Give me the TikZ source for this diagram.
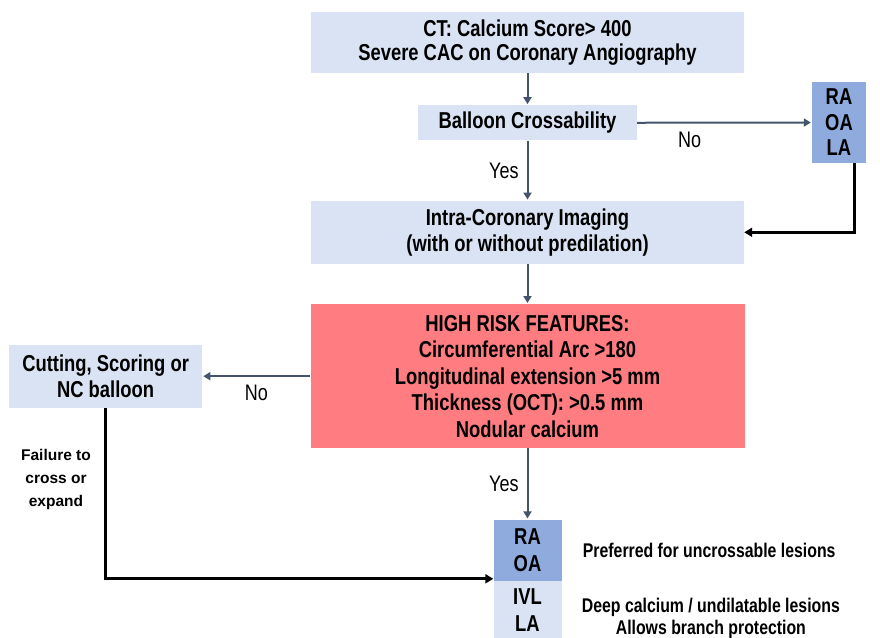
\documentclass[tikz,border=0pt]{standalone}
\usepackage{fontspec}
\setmainfont[FakeStretch=0.8]{Liberation Sans}
\newfontfamily\plainfont{Liberation Sans}
\usetikzlibrary{graphs, positioning, quotes, arrows.meta}

\definecolor{boxblue}{HTML}{DAE3F3}
\definecolor{altblue}{HTML}{8FAADC}
\definecolor{riskred}{HTML}{FF7C80}
\definecolor{flowgray}{HTML}{44546A}

\begin{document}
\begin{tikzpicture}[x=1pt, y=1pt,
		box/.style={fill=boxblue, align=center, inner sep=0pt, font=\fontsize{23}{26.5}\selectfont\bfseries},
		altbox/.style={box, fill=altblue},
		riskbox/.style={box, fill=riskred},
		note/.style={align=center, inner sep=0pt, font=\fontsize{19.8}{22}\selectfont\bfseries},
		flow/.style={draw=flowgray, line width=2pt, shorten >=1pt, >={Triangle[length=7pt, width=8pt]}},
		backflow/.style={draw, line width=3pt, -{Triangle[length=8pt, width=9pt]}},
		every edge quotes/.style={font=\fontsize{22.5}{24}\selectfont, inner sep=8pt}]
		\useasboundingbox (0,0) rectangle (880,-637);

		\node[box, minimum width=433pt, minimum height=61pt, font=\fontsize{23}{24.5}\selectfont\bfseries] (ct) at (527.5,-42.5) {CT: Calcium Score> 400\\Severe CAC on Coronary Angiography};
		\node[box, minimum width=219pt, minimum height=35pt, below=32pt of ct]     (balloon) {Balloon Crossability};
		\node[box, minimum width=433pt, minimum height=63pt, below=60pt of balloon] (imaging) {Intra-Coronary Imaging\\(with or without predilation)};
		\node[riskbox, minimum width=434pt, minimum height=144pt, below=40pt of imaging] (risk) {HIGH RISK FEATURES:\\Circumferential Arc >180\\Longitudinal extension >5 mm\\Thickness (OCT): >0.5 mm\\Nodular calcium};
		\node[box, minimum width=193pt, minimum height=63pt, left=108pt of risk]   (cutting) {Cutting, Scoring or\\NC balloon};
		\node[altbox, minimum width=54pt, minimum height=81pt, font=\fontsize{23}{25.5}\selectfont\bfseries] (alt) at (839,-122.5) {RA\\OA\\LA};
		\node[altbox, minimum width=68pt, minimum height=61pt, below=71pt of risk] (ablate) {RA\\OA};
		\node[box, minimum width=68pt, minimum height=58pt, below=0pt of ablate]  (ivl) {IVL\\LA};

		\node[note, right=21pt of ablate]              (prefnote) {Preferred for uncrossable lesions};
		\node[note, right=20pt of ivl, yshift=-8pt]    (deepnote) {Deep calcium / undilatable lesions\\Allows branch protection};
		\node[note, font=\plainfont\fontsize{15.5}{23}\selectfont\bfseries] (failnote) at (56,-479) {Failure to\\cross or\\expand};

		\graph[edges={flow}]{
			(ct) -> (balloon) ->["Yes" left] (imaging) -> (risk) ->["Yes" left] (ablate);
			(balloon) ->["No" {below, pos=.3}] (alt);
			(risk) ->["No" below] (cutting);
		};

		\draw[backflow] ([xshift=15pt]alt.south) |- (imaging.east);
		\draw[backflow] (cutting.south) |- ([yshift=2pt]ablate.south west);
	\end{tikzpicture}
\end{document}
